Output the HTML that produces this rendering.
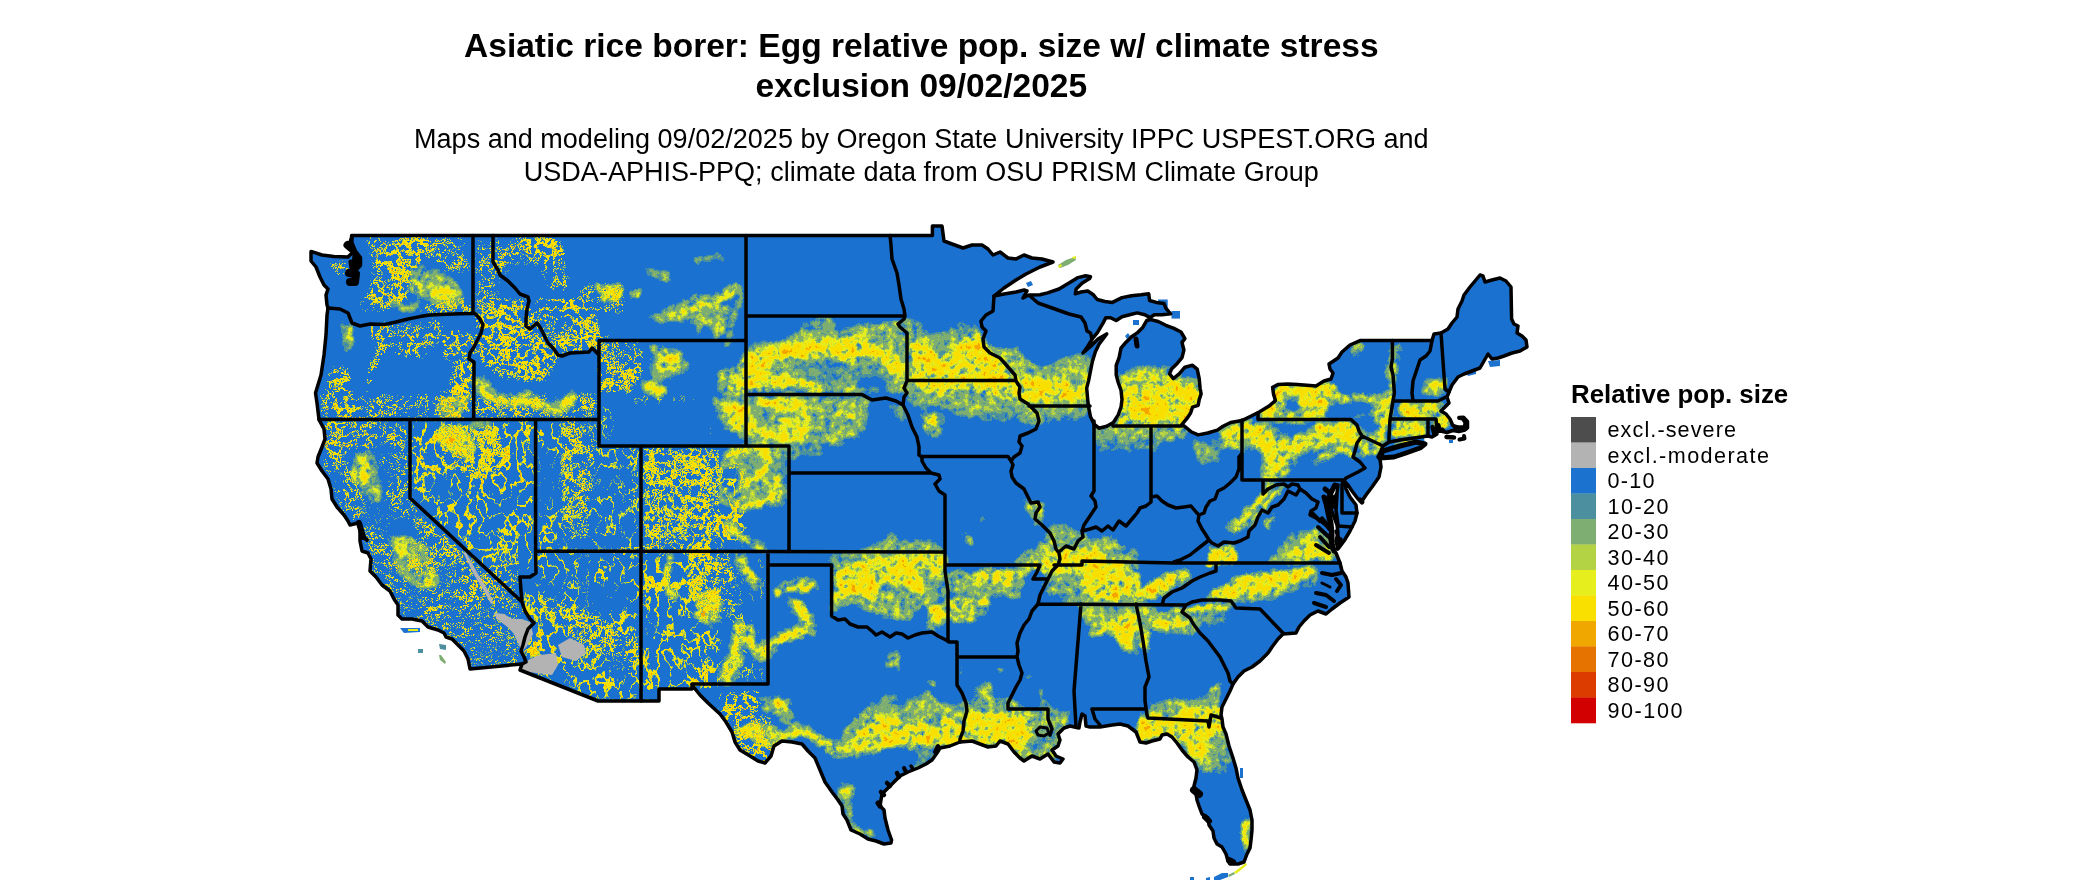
<!DOCTYPE html>
<html><head><meta charset="utf-8"><title>Asiatic rice borer</title>
<style>
html,body{margin:0;padding:0;background:#fff;overflow:hidden;}
svg{display:block;font-family:"Liberation Sans",sans-serif;}
.t{font-weight:bold;font-size:33.5px;text-anchor:middle;fill:#000}
.s{font-size:27px;text-anchor:middle;fill:#000}
.lt{font-weight:bold;font-size:25.9px;fill:#000}
.ll{font-size:21.6px;fill:#000}
.b{fill:none;stroke:#000;stroke-width:3.5;stroke-linejoin:round;stroke-linecap:round}
</style></head><body>
<svg width="2100" height="892" viewBox="0 0 2100 892">
<rect width="2100" height="892" fill="#fff"/>
<g style="opacity:0.999">
<text class="t" x="921.3" y="56.5" textLength="914.5" lengthAdjust="spacing">Asiatic rice borer: Egg relative pop. size w/ climate stress</text>
<text class="t" x="921.3" y="96.5">exclusion 09/02/2025</text>
<text class="s" x="921.3" y="148.3" textLength="1014.5" lengthAdjust="spacing">Maps and modeling 09/02/2025 by Oregon State University IPPC USPEST.ORG and</text>
<text class="s" x="921.3" y="181" textLength="795" lengthAdjust="spacing">USDA-APHIS-PPQ; climate data from OSU PRISM Climate Group</text>
<text class="lt" x="1571" y="402.8">Relative pop. size</text>
<rect x="1571" y="417.00" width="25" height="25.80" fill="#4d4d4d"/><text class="ll" x="1607.5" y="437.30" textLength="128.5" lengthAdjust="spacing">excl.-severe</text>
<rect x="1571" y="442.50" width="25" height="25.80" fill="#b3b3b3"/><text class="ll" x="1607.5" y="462.80" textLength="161.5" lengthAdjust="spacing">excl.-moderate</text>
<rect x="1571" y="468.00" width="25" height="25.80" fill="#1b72cf"/><text class="ll" x="1607.5" y="488.30" textLength="47" lengthAdjust="spacing">0-10</text>
<rect x="1571" y="493.50" width="25" height="25.80" fill="#4c90a0"/><text class="ll" x="1607.5" y="513.80" textLength="61" lengthAdjust="spacing">10-20</text>
<rect x="1571" y="519.00" width="25" height="25.80" fill="#7fae72"/><text class="ll" x="1607.5" y="539.30" textLength="61" lengthAdjust="spacing">20-30</text>
<rect x="1571" y="544.50" width="25" height="25.80" fill="#b3d244"/><text class="ll" x="1607.5" y="564.80" textLength="61" lengthAdjust="spacing">30-40</text>
<rect x="1571" y="570.00" width="25" height="25.80" fill="#e6ee1e"/><text class="ll" x="1607.5" y="590.30" textLength="61" lengthAdjust="spacing">40-50</text>
<rect x="1571" y="595.50" width="25" height="25.80" fill="#fae000"/><text class="ll" x="1607.5" y="615.80" textLength="61" lengthAdjust="spacing">50-60</text>
<rect x="1571" y="621.00" width="25" height="25.80" fill="#f0a800"/><text class="ll" x="1607.5" y="641.30" textLength="61" lengthAdjust="spacing">60-70</text>
<rect x="1571" y="646.50" width="25" height="25.80" fill="#e67300"/><text class="ll" x="1607.5" y="666.80" textLength="61" lengthAdjust="spacing">70-80</text>
<rect x="1571" y="672.00" width="25" height="25.80" fill="#dc3c00"/><text class="ll" x="1607.5" y="692.30" textLength="61" lengthAdjust="spacing">80-90</text>
<rect x="1571" y="697.50" width="25" height="25.80" fill="#d20000"/><text class="ll" x="1607.5" y="717.80" textLength="75" lengthAdjust="spacing">90-100</text>
</g>
<defs>
<clipPath id="us"><path d="M351.6,235.6 L932.4,235.6 L932.4,226 L942,226 L944,241 L952,244 L963,248 L972,245 L982,245 L988,249 L993,255 L1000,252 L1008,258 L1016,259 L1024,255 L1032,258 L1042,259 L1053,262 L1040,267 L1026,274 L1016,280 L1004,288 L994,296 L1004,294 L1016,292 L1024,290 L1027,291 L1023,298 L1029,295 L1040,294.8 L1047.6,292.9 L1059,289 L1068.6,283.3 L1078,277.6 L1085.7,275.7 L1090.5,276.7 L1089.6,278.6 L1082,283.3 L1076.2,289 L1075.3,293.8 L1081,292 L1087.7,291 L1093.4,294.8 L1097.2,299.5 L1104.8,301.5 L1112.4,302.4 L1122,297.6 L1131.5,295.7 L1141,294.8 L1148.7,293.8 L1149.6,300.5 L1156.3,302.4 L1163.9,303.4 L1165.8,308.1 L1170.6,313.8 L1162,314.8 L1154.4,314.8 L1150,317.6 L1144.8,314.8 L1137.2,312.9 L1129.6,314.8 L1122,316.7 L1116.2,320.5 L1110.5,317.7 L1105.8,317.7 L1102.9,323.4 L1097.2,332.9 L1092.4,338.6 L1088,346 L1083,353 L1090,347 L1098,339 L1106.7,333.9 L1099,344.3 L1095.3,352 L1092.4,361.5 L1090.5,371 L1088.6,380.6 L1086.7,388.2 L1087.7,399.6 L1088.6,407.2 L1090.5,416.8 L1094.3,424.4 L1099,428.2 L1106.7,426.3 L1113.4,422.5 L1118.2,414.9 L1121,407.2 L1122,399.6 L1121,390.1 L1118.2,382.5 L1116.2,374.8 L1116.2,365.3 L1119.1,357.7 L1121,348.2 L1125.8,342.4 L1131.5,336.7 L1137.2,332.9 L1142.9,327.2 L1146.7,320.5 L1151,319.6 L1158.2,321.5 L1165.8,325.3 L1173.4,328.1 L1181,332 L1184.9,338.6 L1182,342.4 L1183.9,350 L1182,357.7 L1177.2,363.4 L1171.5,369.1 L1169.6,373.9 L1173.4,378.7 L1179.2,373.9 L1184.9,367.2 L1192.5,365.3 L1197.2,369.1 L1199.2,378.7 L1200.1,388.2 L1201.1,393.9 L1199.2,399.6 L1198.2,405.3 L1192.5,407.2 L1190.6,413 L1186.8,418.7 L1182,424.4 L1186.8,428.2 L1191.5,432 L1198.2,434.9 L1207.7,433 L1217.3,430.1 L1223,426.3 L1230.6,422.5 L1242,420.6 L1249.7,416.8 L1259.2,412 L1268.7,406.3 L1275.4,400.6 L1273.5,393.9 L1272.6,387.2 L1278.3,384.4 L1287.8,384 L1297.3,384.4 L1306.9,385.3 L1316,386 L1324,381 L1331,379 L1333,373 L1330,369 L1329,364 L1338,358 L1342,352 L1350,345 L1360,340.6 L1432,340.6 L1434,334 L1441,333 L1448,329 L1452,323 L1457,317 L1458,309 L1462,301 L1464,295 L1470,287 L1480,275 L1483,276 L1485,282 L1492,280 L1500,278 L1506,281 L1511,287 L1511.6,319 L1514,324 L1518,326 L1517,333 L1522,336 L1526,340 L1527,347 L1520,351 L1512,353 L1504,356 L1498,358 L1492,359 L1488,354 L1484,361 L1480,368 L1472,371 L1464,374 L1458,377 L1452,385 L1449,392 L1447,397 L1449,403 L1444,408 L1441,411 L1446,414 L1450,419 L1452.8,425.5 L1458.9,427.5 L1464.5,427 L1465.5,422.4 L1463,418.8 L1459,417.6 L1463.5,417.2 L1467.5,421.5 L1467.5,428 L1465,430 L1458.9,431.5 L1452.8,430.5 L1446.8,432.5 L1440.7,431 L1437,431.5 L1437,434 L1432,437 L1428,436 L1414,438 L1400,440 L1389,442 L1383,446 L1381,451 L1378,457 L1380,459 L1381,467 L1379,477 L1372,487 L1366,495 L1362,501 L1358,499 L1352,491 L1348,485 L1344,481 L1346,489 L1350,497 L1356,505 L1357,513 L1355,521 L1350,531 L1344,541 L1338,549 L1336,541 L1338,533 L1337,525 L1334,517 L1331,509 L1333,501 L1337,493 L1338,485 L1334,485 L1332,489 L1328,497 L1326,507 L1328,517 L1331,529 L1330,539 L1332,549 L1336,553 L1340,563 L1342,571 L1346,577 L1348,583 L1349,597 L1340,603 L1332,609 L1326,614 L1318,611 L1310,615 L1304,621 L1299,627 L1296,633 L1283,634 L1278,639 L1272,647 L1268,653 L1260,661 L1252,667 L1244,671 L1238,677 L1233,684 L1230,691 L1226,699 L1222,707 L1221,715 L1222,719 L1223,727 L1226,734 L1229,746 L1233,758 L1236,768 L1238,778 L1242,790 L1246,800 L1250,810 L1252,820 L1252,830 L1251,840 L1250,848 L1247,854 L1244,862 L1238,864 L1230,864 L1228,861 L1226,854 L1222,847 L1217,844 L1214,838 L1213,831 L1209,825 L1208,818 L1202,814 L1199,806 L1197,800 L1196,794 L1194,786 L1196,778 L1197,770 L1194,762 L1188,757 L1182,750 L1177,743 L1172,737 L1167,734 L1162,735 L1160,739 L1152,741 L1146,743 L1140,742 L1136,732 L1128,726 L1120,724 L1112,725 L1100,727 L1090,727 L1086,726 L1085,716 L1082,714 L1080,722 L1079,728 L1070,726 L1064,728 L1058,734 L1060,740 L1058,746 L1052,750 L1056,756 L1063,759 L1060,763 L1054,762 L1048,754 L1040,759 L1032,756 L1024,761 L1020,758 L1014,752 L1008,744 L1000,741 L996,746 L988,747 L980,744 L972,741 L960,742 L950,746 L940,748 L937,753 L932,760 L926,764 L918,768 L908,772 L900,776 L890,786 L882,794 L880,806 L884,810 L885,818 L888,830 L891.6,840 L891,843 L884,844 L876,841 L868,839 L860,834 L851,830 L847,820 L843,814 L842,806 L838,800 L832,792 L825,782 L820,770 L815,758 L808,751 L802,744 L792,742 L782,741 L774,746 L771,756 L765,763 L758,761 L750,756 L740,750 L735,742 L732,732 L726,722 L720,714 L708,703 L700,695 L692,685 L692,689 L659,689 L659,701 L641,701 L598,701 L520,670 L522,664 L470,669 L468,659 L464,651 L458,645 L452,639 L446,637 L444,633 L438,630 L428,627 L422,621 L412,619 L402,619 L398,615 L398,605 L394,599 L390,591 L382,585 L376,577 L370,571 L371,559 L368,553 L362,551 L360,541 L360,529 L358,523 L350,525 L348,521 L344,515 L337,507 L332,499 L331,489 L328,479 L322,471 L317,463 L318,457 L322,447 L325,439 L324,429 L319,419.6 L317,403 L315.5,393 L321,375 L324,355 L326,335 L327,315 L328,308 L327,305 L326,295 L328,289 L324,285 L320,277 L316,267 L311,261 L311,251.4 L322,255 L334,256.4 L348,257 L355,250 L352,243Z M1383,451 L1400,446 L1416,442 L1425,444 L1420,448 L1406,453 L1394,457 L1380,458Z"/></clipPath>
<filter id="fe" filterUnits="userSpaceOnUse" x="300" y="215" width="1240" height="677" color-interpolation-filters="sRGB">
<feGaussianBlur in="SourceGraphic" stdDeviation="2.0" result="b"/>
<feTurbulence type="fractalNoise" baseFrequency="0.03" numOctaves="3" seed="2" result="n2"/>
<feDisplacementMap in="b" in2="n2" scale="18" xChannelSelector="R" yChannelSelector="G" result="bd"/>
<feTurbulence type="fractalNoise" baseFrequency="0.16" numOctaves="3" seed="4" result="n"/>
<feTurbulence type="fractalNoise" baseFrequency="0.05" numOctaves="2" seed="8" result="nm"/>
<feColorMatrix in="n" type="matrix" values="1 0 0 0 0 1 0 0 0 0 1 0 0 0 0 0 0 0 0 1" result="g1"/>
<feColorMatrix in="nm" type="matrix" values="1 0 0 0 0 1 0 0 0 0 1 0 0 0 0 0 0 0 0 1" result="g2"/>
<feComposite in="g1" in2="g2" operator="arithmetic" k1="0" k2="1.0" k3="0.5" k4="-0.25" result="ng"/>
<feComposite in="bd" in2="ng" operator="arithmetic" k1="2.0" k2="0.0" k3="0.14" k4="-0.07" result="s"/>
<feComponentTransfer in="s"><feFuncR type="discrete" tableValues="0.106 0.106 0.298 0.298 0.498 0.498 0.498 0.702 0.702 0.902 0.902 0.902 0.980 0.980 0.980 0.980 0.980 0.980 0.980 0.961"/><feFuncG type="discrete" tableValues="0.447 0.447 0.565 0.565 0.682 0.682 0.682 0.824 0.824 0.933 0.933 0.933 0.878 0.878 0.878 0.878 0.878 0.878 0.878 0.647"/><feFuncB type="discrete" tableValues="0.812 0.812 0.627 0.627 0.447 0.447 0.447 0.267 0.267 0.118 0.118 0.118 0.000 0.000 0.000 0.000 0.000 0.000 0.000 0.000"/><feFuncA type="table" tableValues="1 1"/></feComponentTransfer>
</filter>
<filter id="fw" filterUnits="userSpaceOnUse" x="300" y="215" width="1240" height="677" color-interpolation-filters="sRGB">
<feGaussianBlur in="SourceGraphic" stdDeviation="3" result="m0"/>
<feTurbulence type="fractalNoise" baseFrequency="0.035" numOctaves="2" seed="5" result="q"/>
<feColorMatrix in="q" type="matrix" values="1 0 0 0 0 1 0 0 0 0 1 0 0 0 0 0 0 0 0 1" result="qg"/>
<feComposite in="m0" in2="qg" operator="arithmetic" k1="1.6" k2="0.2" k3="0" k4="0" result="m"/>
<feTurbulence type="fractalNoise" baseFrequency="0.11" numOctaves="4" seed="11" result="n"/>
<feComponentTransfer in="n" result="r"><feFuncR type="table" tableValues="0 0 0 0 0 0 0 0 0 1 0 1 0 0 0 0 0 0 0 0 0"/><feFuncA type="table" tableValues="1 1"/></feComponentTransfer>
<feColorMatrix in="r" type="matrix" values="1 0 0 0 0 1 0 0 0 0 1 0 0 0 0 0 0 0 0 1" result="rg"/>
<feComposite in="m" in2="rg" operator="arithmetic" k1="0" k2="1.33" k3="1" k4="-1" result="s"/>
<feColorMatrix in="s" type="matrix" values="1 0 0 0 0 1 0 0 0 0 1 0 0 0 0 1 0 0 0 0" result="sa"/>
<feComponentTransfer in="sa"><feFuncR type="discrete" tableValues="0.106 0.106 0.106 0.106 0.106 0.106 0.106 0.106 0.498 0.498 0.702 0.902 0.980 0.980 0.980 0.980 0.980 0.980 0.961 0.980"/><feFuncG type="discrete" tableValues="0.447 0.447 0.447 0.447 0.447 0.447 0.447 0.447 0.682 0.682 0.824 0.933 0.878 0.878 0.878 0.878 0.878 0.878 0.647 0.878"/><feFuncB type="discrete" tableValues="0.812 0.812 0.812 0.812 0.812 0.812 0.812 0.812 0.447 0.447 0.267 0.118 0.000 0.000 0.000 0.000 0.000 0.000 0.000 0.000"/><feFuncA type="discrete" tableValues="0 0 0 0 0 0 0 0 1 1 1 1 1 1 1 1 1 1 1 1"/></feComponentTransfer>
</filter>
<filter id="fw2" filterUnits="userSpaceOnUse" x="300" y="215" width="1240" height="677" color-interpolation-filters="sRGB">
<feGaussianBlur in="SourceGraphic" stdDeviation="3" result="m0"/>
<feTurbulence type="fractalNoise" baseFrequency="0.03" numOctaves="2" seed="9" result="q"/>
<feColorMatrix in="q" type="matrix" values="1 0 0 0 0 1 0 0 0 0 1 0 0 0 0 0 0 0 0 1" result="qg"/>
<feComposite in="m0" in2="qg" operator="arithmetic" k1="1.6" k2="0.2" k3="0" k4="0" result="m"/>
<feTurbulence type="fractalNoise" baseFrequency="0.085 0.06" numOctaves="4" seed="23" result="n"/>
<feComponentTransfer in="n" result="r"><feFuncR type="table" tableValues="0 0 0 0 0 0 0 0.5 1 0.5 0 0 0 0 0 0 0"/><feFuncA type="table" tableValues="1 1"/></feComponentTransfer>
<feColorMatrix in="r" type="matrix" values="1 0 0 0 0 1 0 0 0 0 1 0 0 0 0 0 0 0 0 1" result="rg"/>
<feComposite in="m" in2="rg" operator="arithmetic" k1="0" k2="1.0" k3="1" k4="-1" result="s"/>
<feColorMatrix in="s" type="matrix" values="1 0 0 0 0 1 0 0 0 0 1 0 0 0 0 1 0 0 0 0" result="sa"/>
<feComponentTransfer in="sa"><feFuncR type="discrete" tableValues="0.106 0.106 0.106 0.106 0.106 0.106 0.106 0.106 0.498 0.498 0.702 0.902 0.980 0.980 0.980 0.980 0.980 0.980 0.961 0.980"/><feFuncG type="discrete" tableValues="0.447 0.447 0.447 0.447 0.447 0.447 0.447 0.447 0.682 0.682 0.824 0.933 0.878 0.878 0.878 0.878 0.878 0.878 0.647 0.878"/><feFuncB type="discrete" tableValues="0.812 0.812 0.812 0.812 0.812 0.812 0.812 0.812 0.447 0.447 0.267 0.118 0.000 0.000 0.000 0.000 0.000 0.000 0.000 0.000"/><feFuncA type="discrete" tableValues="0 0 0 0 0 0 0 0 1 1 1 1 1 1 1 1 1 1 1 1"/></feComponentTransfer>
</filter>
</defs>
<path d="M351.6,235.6 L932.4,235.6 L932.4,226 L942,226 L944,241 L952,244 L963,248 L972,245 L982,245 L988,249 L993,255 L1000,252 L1008,258 L1016,259 L1024,255 L1032,258 L1042,259 L1053,262 L1040,267 L1026,274 L1016,280 L1004,288 L994,296 L1004,294 L1016,292 L1024,290 L1027,291 L1023,298 L1029,295 L1040,294.8 L1047.6,292.9 L1059,289 L1068.6,283.3 L1078,277.6 L1085.7,275.7 L1090.5,276.7 L1089.6,278.6 L1082,283.3 L1076.2,289 L1075.3,293.8 L1081,292 L1087.7,291 L1093.4,294.8 L1097.2,299.5 L1104.8,301.5 L1112.4,302.4 L1122,297.6 L1131.5,295.7 L1141,294.8 L1148.7,293.8 L1149.6,300.5 L1156.3,302.4 L1163.9,303.4 L1165.8,308.1 L1170.6,313.8 L1162,314.8 L1154.4,314.8 L1150,317.6 L1144.8,314.8 L1137.2,312.9 L1129.6,314.8 L1122,316.7 L1116.2,320.5 L1110.5,317.7 L1105.8,317.7 L1102.9,323.4 L1097.2,332.9 L1092.4,338.6 L1088,346 L1083,353 L1090,347 L1098,339 L1106.7,333.9 L1099,344.3 L1095.3,352 L1092.4,361.5 L1090.5,371 L1088.6,380.6 L1086.7,388.2 L1087.7,399.6 L1088.6,407.2 L1090.5,416.8 L1094.3,424.4 L1099,428.2 L1106.7,426.3 L1113.4,422.5 L1118.2,414.9 L1121,407.2 L1122,399.6 L1121,390.1 L1118.2,382.5 L1116.2,374.8 L1116.2,365.3 L1119.1,357.7 L1121,348.2 L1125.8,342.4 L1131.5,336.7 L1137.2,332.9 L1142.9,327.2 L1146.7,320.5 L1151,319.6 L1158.2,321.5 L1165.8,325.3 L1173.4,328.1 L1181,332 L1184.9,338.6 L1182,342.4 L1183.9,350 L1182,357.7 L1177.2,363.4 L1171.5,369.1 L1169.6,373.9 L1173.4,378.7 L1179.2,373.9 L1184.9,367.2 L1192.5,365.3 L1197.2,369.1 L1199.2,378.7 L1200.1,388.2 L1201.1,393.9 L1199.2,399.6 L1198.2,405.3 L1192.5,407.2 L1190.6,413 L1186.8,418.7 L1182,424.4 L1186.8,428.2 L1191.5,432 L1198.2,434.9 L1207.7,433 L1217.3,430.1 L1223,426.3 L1230.6,422.5 L1242,420.6 L1249.7,416.8 L1259.2,412 L1268.7,406.3 L1275.4,400.6 L1273.5,393.9 L1272.6,387.2 L1278.3,384.4 L1287.8,384 L1297.3,384.4 L1306.9,385.3 L1316,386 L1324,381 L1331,379 L1333,373 L1330,369 L1329,364 L1338,358 L1342,352 L1350,345 L1360,340.6 L1432,340.6 L1434,334 L1441,333 L1448,329 L1452,323 L1457,317 L1458,309 L1462,301 L1464,295 L1470,287 L1480,275 L1483,276 L1485,282 L1492,280 L1500,278 L1506,281 L1511,287 L1511.6,319 L1514,324 L1518,326 L1517,333 L1522,336 L1526,340 L1527,347 L1520,351 L1512,353 L1504,356 L1498,358 L1492,359 L1488,354 L1484,361 L1480,368 L1472,371 L1464,374 L1458,377 L1452,385 L1449,392 L1447,397 L1449,403 L1444,408 L1441,411 L1446,414 L1450,419 L1452.8,425.5 L1458.9,427.5 L1464.5,427 L1465.5,422.4 L1463,418.8 L1459,417.6 L1463.5,417.2 L1467.5,421.5 L1467.5,428 L1465,430 L1458.9,431.5 L1452.8,430.5 L1446.8,432.5 L1440.7,431 L1437,431.5 L1437,434 L1432,437 L1428,436 L1414,438 L1400,440 L1389,442 L1383,446 L1381,451 L1378,457 L1380,459 L1381,467 L1379,477 L1372,487 L1366,495 L1362,501 L1358,499 L1352,491 L1348,485 L1344,481 L1346,489 L1350,497 L1356,505 L1357,513 L1355,521 L1350,531 L1344,541 L1338,549 L1336,541 L1338,533 L1337,525 L1334,517 L1331,509 L1333,501 L1337,493 L1338,485 L1334,485 L1332,489 L1328,497 L1326,507 L1328,517 L1331,529 L1330,539 L1332,549 L1336,553 L1340,563 L1342,571 L1346,577 L1348,583 L1349,597 L1340,603 L1332,609 L1326,614 L1318,611 L1310,615 L1304,621 L1299,627 L1296,633 L1283,634 L1278,639 L1272,647 L1268,653 L1260,661 L1252,667 L1244,671 L1238,677 L1233,684 L1230,691 L1226,699 L1222,707 L1221,715 L1222,719 L1223,727 L1226,734 L1229,746 L1233,758 L1236,768 L1238,778 L1242,790 L1246,800 L1250,810 L1252,820 L1252,830 L1251,840 L1250,848 L1247,854 L1244,862 L1238,864 L1230,864 L1228,861 L1226,854 L1222,847 L1217,844 L1214,838 L1213,831 L1209,825 L1208,818 L1202,814 L1199,806 L1197,800 L1196,794 L1194,786 L1196,778 L1197,770 L1194,762 L1188,757 L1182,750 L1177,743 L1172,737 L1167,734 L1162,735 L1160,739 L1152,741 L1146,743 L1140,742 L1136,732 L1128,726 L1120,724 L1112,725 L1100,727 L1090,727 L1086,726 L1085,716 L1082,714 L1080,722 L1079,728 L1070,726 L1064,728 L1058,734 L1060,740 L1058,746 L1052,750 L1056,756 L1063,759 L1060,763 L1054,762 L1048,754 L1040,759 L1032,756 L1024,761 L1020,758 L1014,752 L1008,744 L1000,741 L996,746 L988,747 L980,744 L972,741 L960,742 L950,746 L940,748 L937,753 L932,760 L926,764 L918,768 L908,772 L900,776 L890,786 L882,794 L880,806 L884,810 L885,818 L888,830 L891.6,840 L891,843 L884,844 L876,841 L868,839 L860,834 L851,830 L847,820 L843,814 L842,806 L838,800 L832,792 L825,782 L820,770 L815,758 L808,751 L802,744 L792,742 L782,741 L774,746 L771,756 L765,763 L758,761 L750,756 L740,750 L735,742 L732,732 L726,722 L720,714 L708,703 L700,695 L692,685 L692,689 L659,689 L659,701 L641,701 L598,701 L520,670 L522,664 L470,669 L468,659 L464,651 L458,645 L452,639 L446,637 L444,633 L438,630 L428,627 L422,621 L412,619 L402,619 L398,615 L398,605 L394,599 L390,591 L382,585 L376,577 L370,571 L371,559 L368,553 L362,551 L360,541 L360,529 L358,523 L350,525 L348,521 L344,515 L337,507 L332,499 L331,489 L328,479 L322,471 L317,463 L318,457 L322,447 L325,439 L324,429 L319,419.6 L317,403 L315.5,393 L321,375 L324,355 L326,335 L327,315 L328,308 L327,305 L326,295 L328,289 L324,285 L320,277 L316,267 L311,261 L311,251.4 L322,255 L334,256.4 L348,257 L355,250 L352,243Z M1383,451 L1400,446 L1416,442 L1425,444 L1420,448 L1406,453 L1394,457 L1380,458Z" fill="#1b72cf"/>
<g clip-path="url(#us)"><g filter="url(#fe)"><rect x="290" y="205" width="1260" height="690" fill="#000"/>
<path d="M408,275 L420,265 L440,271 L460,281 L466,295 L456,303 L428,303 L412,295Z" fill="#494949"/>
<path d="M428,285 L444,284 L456,290 L452,296 L432,296Z" fill="#9f9f9f"/>
<path d="M412,283 L422,283 L422,291 L412,291Z" fill="#9f9f9f"/>
<path d="M392,301 L420,303 L420,311 L394,309Z" fill="#494949"/>
<path d="M342,327 L354,327 L354,343 L346,351 L340,347Z" fill="#494949"/>
<path d="M347.6,329 L353,329 L352.4,338 L348,338Z" fill="#9f9f9f"/>
<path d="M596,285 L616,285 L620,299 L604,303Z" fill="#9f9f9f"/>
<path d="M628,291 L640,291 L640,297 L628,297Z" fill="#9f9f9f"/>
<path d="M640,265 L668,273 L666,285 L654,281Z" fill="#494949"/>
<path d="M692,259 L720,258 L720,263 L698,265Z" fill="#494949"/>
<path d="M652,345 L680,347 L686,367 L672,381 L656,375Z" fill="#494949"/>
<path d="M658,351 L674,353 L676,369 L662,371Z" fill="#9f9f9f"/>
<path d="M647.5,326.5 L661.5,312.5 L675.5,301.3 L692.4,295.7 L706.4,298.5 L720.4,292.9 L735.8,281.7 L737.2,290 L728.8,301.3 L731.6,315.3 L726,326.5 L720.4,337.7 L712,326.5 L700.8,323.7 L698,335 L692.4,323.7 L675.5,318 L661.5,323.7Z" fill="#494949"/>
<path d="M676,312 L686.8,309.7 L703.6,304 L720.4,301.3 L731.6,290" fill="none" stroke="#9f9f9f" stroke-width="3.5" stroke-linecap="round" stroke-linejoin="round"/>
<path d="M700,306 L698,330" fill="none" stroke="#9f9f9f" stroke-width="2.5" stroke-linecap="round" stroke-linejoin="round"/>
<path d="M720,302 L722,330" fill="none" stroke="#9f9f9f" stroke-width="2.5" stroke-linecap="round" stroke-linejoin="round"/>
<path d="M737,285 L740,300 L733,330 L727,345" fill="none" stroke="#494949" stroke-width="5" stroke-linecap="round" stroke-linejoin="round"/>
<path d="M737,285 L740,300" fill="none" stroke="#666666" stroke-width="3" stroke-linecap="round" stroke-linejoin="round"/>
<path d="M752,348 L780,338 L804,326 L828,320 L840,334 L856,326 L878,320 L902,324 L906,340 L906,396 L892,394 L860,392 L824,390 L740,390 L740,366Z" fill="#494949"/>
<path d="M786,368 L806,360 L836,360 L852,368 L868,364 L884,376 L900,388 L880,390 L852,380 L824,380 L800,378Z" fill="#2d2d2d"/>
<path d="M852,381 L876,379 L892,388 L888,394 L864,388Z" fill="#000000"/>
<path d="M760,360 L790,350 L820,344 L844,352 L864,343 L880,352 L896,366 L906,374" fill="none" stroke="#666666" stroke-width="20" stroke-linecap="round" stroke-linejoin="round"/>
<path d="M760,360 L790,350 L820,344 L844,352 L864,343 L880,352 L896,366 L906,374" fill="none" stroke="#9f9f9f" stroke-width="11" stroke-linecap="round" stroke-linejoin="round"/>
<path d="M740,382 L764,381 L800,385 L820,388" fill="none" stroke="#9f9f9f" stroke-width="9" stroke-linecap="round" stroke-linejoin="round"/>
<path d="M748,356 L764,356 L770,366 L762,384 L740,388 L740,364Z" fill="#9f9f9f"/>
<path d="M902,324 L920,326 L932,336 L948,326 L964,325 L980,328 L984,344 L998,344 L1016,344 L1024,360 L1040,364 L1060,360 L1080,350 L1089,352 L1089,412 L1060,416 L1032,416 L1020,412 L1000,414 L980,412 L956,408 L940,402 L920,404 L906,396Z" fill="#494949"/>
<path d="M906,396 L920,404 L940,402 L956,408 L980,412 L1000,414 L1020,412 L1032,416 L1060,416 L1060,424 L1032,422 L1000,420 L980,421 L956,414 L940,408 L920,412 L906,404Z" fill="#2d2d2d"/>
<path d="M910,336 L920,340 L940,352 L960,340 L980,336 L984,352 L1000,360 L1014,376 L1020,378 L1036,380 L1060,378 L1088,376 L1088,400 L1060,400 L1040,402 L1020,400 L1000,396 L980,394 L960,388 L940,390 L920,388 L910,382Z" fill="#9f9f9f"/>
<path d="M1028,368 L1040,368 L1040,380 L1028,380Z" fill="#494949"/>
<path d="M1030,370 L1038,370 L1038,378 L1030,378Z" fill="#000000"/>
<path d="M1074,378 L1080,378 L1080,388 L1074,388Z" fill="#000000"/>
<path d="M998,346 L1016,346 L1024,360 L1008,366Z" fill="#666666"/>
<path d="M748,396 L812,396 L868,396 L872,420 L860,436 L836,440 L816,444 L788,448 L752,448 L740,440 L740,400Z" fill="#494949"/>
<path d="M788,444 L824,440 L824,456 L788,458Z" fill="#2d2d2d"/>
<path d="M762,404 L788,400 L808,408 L810,424 L800,436 L772,438 L752,428" fill="none" stroke="#9f9f9f" stroke-width="9" stroke-linecap="round" stroke-linejoin="round"/>
<path d="M772,408 L800,408 L802,428 L774,430Z" fill="#666666"/>
<path d="M836,412 L842,412 L842,418 L836,418Z" fill="#9f9f9f"/>
<path d="M848,414 L854,414 L854,422 L848,422Z" fill="#9f9f9f"/>
<path d="M740,448 L788,448 L788,478 L740,478Z" fill="#494949"/>
<path d="M740,452 L752,450 L758,460 L748,478 L740,478Z" fill="#9f9f9f"/>
<path d="M766,454 L784,450 L786,458 L770,464Z" fill="#9f9f9f"/>
<path d="M920,416 L942,416 L942,434 L924,434Z" fill="#494949"/>
<path d="M924,420 L936,420 L936,428 L924,428Z" fill="#9f9f9f"/>
<path d="M892,404 L900,404 L902,420 L894,420Z" fill="#2d2d2d"/>
<path d="M1094,428 L1152,428 L1160,432 L1160,448 L1094,448Z" fill="#494949"/>
<path d="M1094,440 L1160,440 L1160,452 L1094,450Z" fill="#2d2d2d"/>
<path d="M1117,372 L1135,368 L1150,372 L1165,366 L1180,372 L1200,380 L1200,432 L1117,432Z" fill="#494949"/>
<path d="M1119,384 L1140,380 L1165,378 L1195,388 L1198,410 L1185,428 L1119,428Z" fill="#9f9f9f"/>
<path d="M1119,376 L1170,372 L1198,384 L1195,390 L1165,380 L1119,386Z" fill="#666666"/>
<path d="M1276,385 L1304,387 L1320,383 L1332,385 L1340,393 L1276,393Z" fill="#9f9f9f"/>
<path d="M1397,343 L1395,367 L1390,393" fill="none" stroke="#868686" stroke-width="4" stroke-linecap="round" stroke-linejoin="round"/>
<path d="M1426,375 L1444,375 L1444,393 L1426,393Z" fill="#666666"/>
<path d="M1350,347 L1362,345 L1360,353 L1350,353Z" fill="#666666"/>
<path d="M440,397 L452,393 L468,393 L470,409 L460,417 L440,415Z" fill="#494949"/>
<path d="M476,381 L492,397 L512,405 L532,401 L552,405 L572,401" fill="none" stroke="#494949" stroke-width="12" stroke-linecap="round" stroke-linejoin="round"/>
<path d="M476,381 L492,397 L512,405 L532,401 L552,405 L572,401" fill="none" stroke="#9f9f9f" stroke-width="4" stroke-linecap="round" stroke-linejoin="round"/>
<path d="M352,453 L368,453 L380,473 L384,497 L376,505 L360,489 L354,473Z" fill="#494949"/>
<path d="M356,461 L368,461 L374,477 L366,481 L358,473Z" fill="#9f9f9f"/>
<path d="M438,425 L460,425 L472,439 L480,453 L468,459 L452,453 L440,441Z" fill="#9f9f9f"/>
<path d="M474,423 L490,423 L490,431 L476,431Z" fill="#494949"/>
<path d="M721,450 L786,450 L786,495 L772,506 L750,510 L735,507 L721,500Z" fill="#494949"/>
<path d="M772,460 L786,460 L786,498 L774,500Z" fill="#2d2d2d"/>
<path d="M727,456 L750,453 L772,458" fill="none" stroke="#9f9f9f" stroke-width="6" stroke-linecap="round" stroke-linejoin="round"/>
<path d="M740,488 L755,478 L768,464" fill="none" stroke="#9f9f9f" stroke-width="6" stroke-linecap="round" stroke-linejoin="round"/>
<path d="M738,509 L760,506 L775,492 L779,472" fill="none" stroke="#9f9f9f" stroke-width="5" stroke-linecap="round" stroke-linejoin="round"/>
<path d="M724,467 L740,467 L741,485 L726,485Z" fill="#000000"/>
<path d="M727,524 L740,537 L760,547" fill="none" stroke="#494949" stroke-width="9" stroke-linecap="round" stroke-linejoin="round"/>
<path d="M727,524 L740,537 L760,547" fill="none" stroke="#9f9f9f" stroke-width="3.5" stroke-linecap="round" stroke-linejoin="round"/>
<path d="M695,594 L718,592 L721,612 L712,626 L698,622Z" fill="#9f9f9f"/>
<path d="M668,560 L672,592" fill="none" stroke="#494949" stroke-width="9" stroke-linecap="round" stroke-linejoin="round"/>
<path d="M668,560 L672,592" fill="none" stroke="#9f9f9f" stroke-width="3.5" stroke-linecap="round" stroke-linejoin="round"/>
<path d="M738,558 L745,570 L756,582" fill="none" stroke="#494949" stroke-width="9" stroke-linecap="round" stroke-linejoin="round"/>
<path d="M738,558 L745,570 L756,582" fill="none" stroke="#9f9f9f" stroke-width="3.5" stroke-linecap="round" stroke-linejoin="round"/>
<path d="M760,698 L790,696 L792,714 L764,716Z" fill="#494949"/>
<path d="M768,702 L784,701 L785,711 L770,712Z" fill="#9f9f9f"/>
<path d="M848,549 L872,543 L888,533 L900,541 L920,537 L940,541 L944,571 L828,571 L832,557Z" fill="#494949"/>
<path d="M848,559 L944,555 L944,571 L840,571Z" fill="#9f9f9f"/>
<path d="M1020,553 L1048,541 L1060,521 L1076,533 L1100,537 L1120,545 L1140,553 L1140,571 L1016,571Z" fill="#494949"/>
<path d="M1032,559 L1052,549 L1072,549 L1100,553 L1120,559 L1120,571 L1032,571Z" fill="#9f9f9f"/>
<path d="M1028,501 L1044,501 L1044,525 L1032,525Z" fill="#494949"/>
<path d="M1032,505 L1038,505 L1038,513 L1032,513Z" fill="#9f9f9f"/>
<path d="M962,533 L970,533 L970,547 L962,547Z" fill="#494949"/>
<path d="M980,520 L986,520 L986,524 L980,524Z" fill="#494949"/>
<path d="M1096,425 L1140,425 L1140,447 L1100,447Z" fill="#494949"/>
<path d="M1096,439 L1140,439 L1140,451 L1100,449Z" fill="#2d2d2d"/>
<path d="M1140,393 L1200,393 L1196,405 L1186,419 L1180,425 L1140,425Z" fill="#9f9f9f"/>
<path d="M1140,425 L1186,426 L1186,441 L1152,441 L1140,439Z" fill="#494949"/>
<path d="M1194,441 L1220,439 L1224,461 L1198,465Z" fill="#2d2d2d"/>
<path d="M1198,445 L1216,443 L1218,457 L1200,459Z" fill="#494949"/>
<path d="M1220,423 L1244,419 L1244,453 L1224,451Z" fill="#494949"/>
<path d="M1224,429 L1240,423 L1240,445 L1228,445Z" fill="#9f9f9f"/>
<path d="M1242,421 L1268,423 L1288,437 L1300,453 L1284,465 L1260,453 L1242,449Z" fill="#494949"/>
<path d="M1244,425 L1260,427 L1280,439 L1292,453 L1280,459 L1260,449 L1244,443Z" fill="#9f9f9f"/>
<path d="M1260,393 L1392,393 L1390,419 L1260,419Z" fill="#666666"/>
<path d="M1260,393 L1284,393 L1280,411 L1264,415Z" fill="#9f9f9f"/>
<path d="M1300,393 L1332,393 L1328,405 L1312,413 L1300,405Z" fill="#9f9f9f"/>
<path d="M1284,397 L1298,397 L1298,408 L1284,408Z" fill="#000000"/>
<path d="M1330,401 L1376,401 L1376,418 L1330,418Z" fill="#000000"/>
<path d="M1387,393 L1384,417 L1380,443" fill="none" stroke="#9f9f9f" stroke-width="6" stroke-linecap="round" stroke-linejoin="round"/>
<path d="M1264,473 L1280,453 L1300,439 L1320,433" fill="none" stroke="#494949" stroke-width="14" stroke-linecap="round" stroke-linejoin="round"/>
<path d="M1264,473 L1280,453 L1300,439 L1320,433" fill="none" stroke="#9f9f9f" stroke-width="6" stroke-linecap="round" stroke-linejoin="round"/>
<path d="M1272,475 L1292,457 L1320,443 L1340,441 L1356,433" fill="none" stroke="#494949" stroke-width="14" stroke-linecap="round" stroke-linejoin="round"/>
<path d="M1272,475 L1292,457 L1320,443 L1340,441 L1356,433" fill="none" stroke="#9f9f9f" stroke-width="6" stroke-linecap="round" stroke-linejoin="round"/>
<path d="M1320,459 L1340,451 L1352,453" fill="none" stroke="#9f9f9f" stroke-width="5" stroke-linecap="round" stroke-linejoin="round"/>
<path d="M1316,423 L1352,421 L1356,433 L1320,433Z" fill="#9f9f9f"/>
<path d="M1234,529 L1246,513 L1260,497 L1268,485" fill="none" stroke="#494949" stroke-width="12" stroke-linecap="round" stroke-linejoin="round"/>
<path d="M1234,529 L1246,513 L1260,497 L1268,485" fill="none" stroke="#9f9f9f" stroke-width="5" stroke-linecap="round" stroke-linejoin="round"/>
<path d="M1252,521 L1268,505 L1280,491" fill="none" stroke="#9f9f9f" stroke-width="4" stroke-linecap="round" stroke-linejoin="round"/>
<path d="M1268,529 L1276,517" fill="none" stroke="#9f9f9f" stroke-width="3" stroke-linecap="round" stroke-linejoin="round"/>
<path d="M1268,557 L1284,541 L1300,531 L1316,529 L1332,537 L1336,553 L1320,563 L1268,563Z" fill="#494949"/>
<path d="M1296,549 L1312,537 L1328,545 L1332,557 L1300,563Z" fill="#9f9f9f"/>
<path d="M1210,549 L1234,547 L1234,563 L1206,563Z" fill="#9f9f9f"/>
<path d="M1356,433 L1380,433 L1380,453 L1358,453Z" fill="#666666"/>
<path d="M1400,403 L1436,403 L1448,413 L1440,419 L1400,417Z" fill="#9f9f9f"/>
<path d="M1392,421 L1426,421 L1424,435 L1392,439Z" fill="#9f9f9f"/>
<path d="M1406,423 L1414,423 L1414,433 L1406,433Z" fill="#494949"/>
<path d="M730,675 L734,647 L742,627 L756,655 L768,651 L786,637 L808,629 L806,617 L798,607" fill="none" stroke="#494949" stroke-width="16" stroke-linecap="round" stroke-linejoin="round"/>
<path d="M730,675 L734,647 L742,627 L756,655 L768,651 L786,637 L808,629 L806,617 L798,607" fill="none" stroke="#9f9f9f" stroke-width="7" stroke-linecap="round" stroke-linejoin="round"/>
<path d="M780,591 L800,585 L812,581" fill="none" stroke="#494949" stroke-width="10" stroke-linecap="round" stroke-linejoin="round"/>
<path d="M780,591 L800,585 L812,581" fill="none" stroke="#9f9f9f" stroke-width="4" stroke-linecap="round" stroke-linejoin="round"/>
<path d="M832,571 L946,571 L948,597 L920,607 L900,621 L884,619 L860,609 L832,609Z" fill="#494949"/>
<path d="M832,571 L920,571 L916,583 L900,587 L880,583 L872,597 L848,601 L832,599Z" fill="#9f9f9f"/>
<path d="M894,577 L920,575 L922,591 L900,589Z" fill="#9f9f9f"/>
<path d="M880,583 L886,583 L886,591 L880,591Z" fill="#000000"/>
<path d="M924,607 L948,605 L950,629 L928,629Z" fill="#494949"/>
<path d="M928,611 L944,609 L946,625 L932,625Z" fill="#9f9f9f"/>
<path d="M948,571 L1032,571 L1020,595 L980,597 L948,591Z" fill="#494949"/>
<path d="M972,571 L1016,571 L1008,583 L980,585Z" fill="#9f9f9f"/>
<path d="M952,603 L984,601" fill="none" stroke="#494949" stroke-width="9" stroke-linecap="round" stroke-linejoin="round"/>
<path d="M952,603 L984,601" fill="none" stroke="#9f9f9f" stroke-width="3.5" stroke-linecap="round" stroke-linejoin="round"/>
<path d="M952,611 L984,609" fill="none" stroke="#494949" stroke-width="9" stroke-linecap="round" stroke-linejoin="round"/>
<path d="M952,611 L984,609" fill="none" stroke="#9f9f9f" stroke-width="3.5" stroke-linecap="round" stroke-linejoin="round"/>
<path d="M950,621 L968,619" fill="none" stroke="#494949" stroke-width="8" stroke-linecap="round" stroke-linejoin="round"/>
<path d="M950,621 L968,619" fill="none" stroke="#9f9f9f" stroke-width="3" stroke-linecap="round" stroke-linejoin="round"/>
<path d="M1048,571 L1140,571 L1140,605 L1080,605 L1048,595Z" fill="#494949"/>
<path d="M1084,571 L1140,571 L1140,597 L1100,599 L1084,587Z" fill="#9f9f9f"/>
<path d="M1082,607 L1140,605 L1140,631 L1132,651 L1112,637 L1092,637 L1082,623Z" fill="#494949"/>
<path d="M1086,623 L1100,627 L1120,619 L1136,611 L1140,623 L1128,647 L1112,631 L1096,631Z" fill="#9f9f9f"/>
<path d="M760,699 L784,697 L792,715 L816,731 L832,743 L860,715 L880,699 L892,691 L900,707 L920,701 L928,691 L940,699 L972,703 L980,683 L988,683 L992,699 L1008,699 L1040,711 L1060,711 L1072,723 L1060,731 L1048,749 L820,749 L796,735 L780,719 L760,711Z" fill="#494949"/>
<path d="M860,729 L878,713 L900,723 L920,719 L940,715 L960,725 L980,717 L1000,721 L1020,731 L1032,741 L1024,749 L840,749 L850,741Z" fill="#9f9f9f"/>
<path d="M978,717 L988,717 L988,727 L978,727Z" fill="#000000"/>
<path d="M928,711 L940,711 L940,727 L928,727Z" fill="#2d2d2d"/>
<path d="M774,701 L786,701 L786,711 L774,711Z" fill="#9f9f9f"/>
<path d="M740,731 L760,735 L788,729 L808,731 L824,743" fill="none" stroke="#494949" stroke-width="12" stroke-linecap="round" stroke-linejoin="round"/>
<path d="M740,731 L760,735 L788,729 L808,731 L824,743" fill="none" stroke="#9f9f9f" stroke-width="5" stroke-linecap="round" stroke-linejoin="round"/>
<path d="M1038,691 L1048,711" fill="none" stroke="#666666" stroke-width="3" stroke-linecap="round" stroke-linejoin="round"/>
<path d="M886,655 L900,655 L900,667 L886,667Z" fill="#666666"/>
<path d="M960,669 L966,669 L966,673 L960,673Z" fill="#494949"/>
<path d="M996,668 L1002,668 L1002,673 L996,673Z" fill="#494949"/>
<path d="M1022,670 L1028,670 L1028,675 L1022,675Z" fill="#666666"/>
<path d="M932,679 L940,679 L940,685 L932,685Z" fill="#666666"/>
<path d="M1140,587 L1188,571 L1192,579 L1172,591 L1152,601 L1140,605Z" fill="#494949"/>
<path d="M1140,591 L1152,583 L1168,577 L1184,573 L1188,577 L1172,587 L1152,597 L1140,603Z" fill="#9f9f9f"/>
<path d="M1204,599 L1228,581 L1252,573 L1280,569 L1320,569 L1320,583 L1292,589 L1272,601 L1252,601 L1232,603Z" fill="#494949"/>
<path d="M1280,579 L1320,579 L1320,591 L1292,593Z" fill="#2d2d2d"/>
<path d="M1208,595 L1228,583 L1252,575 L1280,571 L1312,571 L1316,577 L1292,583 L1272,593 L1252,593 L1232,597Z" fill="#9f9f9f"/>
<path d="M1140,607 L1234,605 L1228,615 L1200,623 L1192,637 L1160,633 L1140,627Z" fill="#494949"/>
<path d="M1196,609 L1226,609 L1226,623 L1200,623Z" fill="#2d2d2d"/>
<path d="M1144,611 L1152,617 L1168,619 L1180,615 L1188,623 L1172,629 L1152,625Z" fill="#9f9f9f"/>
<path d="M1190,606 L1224,605.4 L1228,610 L1192,611Z" fill="#9f9f9f"/>
<path d="M1140,631 L1150,633 L1148,647 L1140,651Z" fill="#9f9f9f"/>
<path d="M1160,699 L1180,701 L1200,699 L1210,685 L1222,683 L1222,699 L1216,719 L1160,719 L1150,709Z" fill="#494949"/>
<path d="M1180,709 L1200,707 L1206,713 L1204,719 L1172,719Z" fill="#868686"/>
<path d="M760,740 L780,734 L800,730 L816,738 L832,750 L856,750 L872,740" fill="none" stroke="#494949" stroke-width="12" stroke-linecap="round" stroke-linejoin="round"/>
<path d="M760,740 L780,734 L800,730 L816,738 L832,750 L856,750 L872,740" fill="none" stroke="#9f9f9f" stroke-width="5" stroke-linecap="round" stroke-linejoin="round"/>
<path d="M844,794 L848,814 L860,830 L872,836" fill="none" stroke="#666666" stroke-width="5" stroke-linecap="round" stroke-linejoin="round"/>
<path d="M842,790 L850,790 L850,798 L842,798Z" fill="#9f9f9f"/>
<path d="M916,752 L936,752 L936,766 L916,766Z" fill="#2d2d2d"/>
<path d="M960,714 L1072,714 L1060,762 L1020,762 L996,746 L960,742Z" fill="#494949"/>
<path d="M964,714 L1032,714 L1032,734 L1020,754 L1008,742 L980,740 L964,736Z" fill="#9f9f9f"/>
<path d="M1032,730 L1044,730 L1044,748 L1032,748Z" fill="#2d2d2d"/>
<path d="M1140,714 L1224,714 L1232,758 L1224,774 L1204,772 L1188,754 L1176,740 L1140,744Z" fill="#494949"/>
<path d="M1140,714 L1220,714 L1224,734 L1228,754 L1220,766 L1206,770 L1198,762 L1188,754 L1176,740 L1164,734 L1152,740 L1140,742Z" fill="#9f9f9f"/>
<path d="M1200,742 L1224,734 L1230,758 L1220,770 L1204,768Z" fill="#494949"/>
<path d="M1208,748 L1224,744 L1226,760 L1212,762Z" fill="#2d2d2d"/>
<path d="M1244,820 L1252,820 L1252,852 L1243,852Z" fill="#494949"/>
<path d="M1247.6,822 L1252,822 L1252,850 L1245.6,852 L1246,838Z" fill="#9f9f9f"/>
<path d="M1434,412 L1452,412 L1454,428 L1440,431 L1434,426Z" fill="#494949"/>
<path d="M1437,415 L1451,415 L1452,427 L1441,429 L1437,424Z" fill="#9f9f9f"/>
<path d="M390,540 L410,534 L428,545 L434,565 L430,585 L415,590 L400,575 L392,558Z" fill="#494949"/>
<path d="M404,556 L424,556 L428,578 L412,584 L404,570Z" fill="#2d2d2d"/>
<path d="M396,541 L411,539 L413,556 L400,560Z" fill="#9f9f9f"/>
<path d="M421,572 L430,572 L430,582 L421,582Z" fill="#9f9f9f"/>
<path d="M646,380 L660,377 L668,384 L667,396 L655,400 L646,394Z" fill="#494949"/>
<path d="M650,383 L660,381 L664,388 L662,394 L653,396Z" fill="#9f9f9f"/>
<path d="M720,372 L732,366 L746,368 L746,398 L730,397 L722,388Z" fill="#494949"/>
<path d="M730,373 L744,372 L744,392 L734,392Z" fill="#9f9f9f"/>
<path d="M716,402 L730,398 L746,400 L746,434 L730,432 L720,420Z" fill="#494949"/>
<path d="M722,406 L744,404 L744,428 L732,428 L724,416Z" fill="#9f9f9f"/>
</g>
<g filter="url(#fw2)"><rect x="290" y="205" width="1260" height="690" fill="#000"/>
<path d="M412,421 L534,421 L534,477 L412,477Z" fill="#ebebeb"/>
<path d="M412,477 L534,477 L534,571 L488,571 L412,499Z" fill="#bdbdbd"/>
<path d="M480,469 L520,461 L524,505 L500,501 L480,487Z" fill="#6b6b6b"/>
<path d="M536,421 L640,421 L640,551 L536,551Z" fill="#b2b2b2"/>
<path d="M538,449 L560,449 L564,489 L540,505Z" fill="#595959"/>
<path d="M590,513 L612,505 L620,525 L600,533Z" fill="#808080"/>
<path d="M600,393 L720,393 L720,445 L600,445Z" fill="#808080"/>
<path d="M616,405 L708,405 L708,441 L616,445Z" fill="#333333"/>
<path d="M642,447 L720,447 L720,551 L642,551Z" fill="#b8b8b8"/>
<path d="M720,447 L746,447 L746,553 L720,553Z" fill="#d1d1d1"/>
<path d="M520,549 L640,549 L640,701 L598,701 L520,669Z" fill="#c2c2c2"/>
<path d="M576,579 L628,579 L628,611 L576,611Z" fill="#616161"/>
<path d="M642,549 L720,549 L720,689 L642,689Z" fill="#c2c2c2"/>
<path d="M642,689 L692,689 L720,713 L720,749 L642,749Z" fill="#c2c2c2"/>
<path d="M720,549 L768,549 L768,683 L720,683Z" fill="#808080"/>
<path d="M430,425 L520,425 L525,480 L480,500 L430,470Z" fill="#ffffff"/>
</g>
<g filter="url(#fw)"><rect x="290" y="205" width="1260" height="690" fill="#000"/>
<path d="M366,237 L424,237 L428,255 L412,275 L408,299 L388,311 L360,311 L368,291 L374,265Z" fill="#ffffff"/>
<path d="M424,237 L470,237 L470,275 L440,271 L428,255Z" fill="#adadad"/>
<path d="M328,261 L346,261 L348,275 L332,275Z" fill="#e6e6e6"/>
<path d="M360,301 L388,301 L388,311 L360,311Z" fill="#cccccc"/>
<path d="M420,301 L472,299 L472,313 L420,315Z" fill="#d1d1d1"/>
<path d="M366,323 L440,319 L444,335 L424,359 L396,355 L368,339Z" fill="#b8b8b8"/>
<path d="M388,335 L374,365 L366,393" fill="none" stroke="#e6e6e6" stroke-width="8" stroke-linecap="round" stroke-linejoin="round"/>
<path d="M330,365 L350,365 L352,393 L324,393Z" fill="#c7c7c7"/>
<path d="M444,327 L474,335 L472,393 L448,393 L452,367 L440,355Z" fill="#e0e0e0"/>
<path d="M476,299 L526,299 L540,327 L560,359 L544,381 L500,381 L476,355Z" fill="#f7f7f7"/>
<path d="M474,237 L500,237 L512,275 L500,299 L476,299Z" fill="#9e9e9e"/>
<path d="M518,237 L558,237 L568,265 L570,289 L550,289 L536,265Z" fill="#f7f7f7"/>
<path d="M496,251 L518,237 L536,265 L520,275Z" fill="#a8a8a8"/>
<path d="M536,299 L584,299 L600,327 L612,339 L598,339 L596,351 L560,355 L540,327Z" fill="#e6e6e6"/>
<path d="M580,283 L624,283 L624,315 L580,315Z" fill="#b2b2b2"/>
<path d="M598,341 L640,341 L644,367 L630,393 L598,393Z" fill="#f7f7f7"/>
<path d="M320,393 L360,393 L360,417 L322,417Z" fill="#e0e0e0"/>
<path d="M360,393 L436,393 L436,419 L360,419Z" fill="#9e9e9e"/>
<path d="M436,393 L472,393 L472,419 L436,419Z" fill="#ffffff"/>
<path d="M474,393 L598,393 L598,419 L474,419Z" fill="#b2b2b2"/>
<path d="M322,421 L366,421 L384,443 L360,453 L332,459 L322,443Z" fill="#e6e6e6"/>
<path d="M366,421 L408,421 L408,453 L384,443Z" fill="#9e9e9e"/>
<path d="M320,459 L352,459 L360,489 L366,517 L350,521 L332,497Z" fill="#b2b2b2"/>
<path d="M376,453 L412,453 L412,497 L440,533 L424,537 L396,513 L384,497Z" fill="#adadad"/>
<path d="M360,489 L384,497 L396,513 L412,537 L396,553 L372,533Z" fill="#595959"/>
<path d="M368,517 L396,553 L404,571 L370,571 L366,553 L360,533Z" fill="#9e9e9e"/>
<path d="M412,537 L452,533 L488,571 L404,571Z" fill="#a1a1a1"/>
<path d="M368,571 L488,571 L520,549 L520,667 L470,667 L440,631 L396,617Z" fill="#a1a1a1"/>
<path d="M456,641 L500,641 L512,665 L470,667Z" fill="#737373"/>
<path d="M720,691 L760,691 L760,749 L720,749Z" fill="#d1d1d1"/>
<path d="M720,714 L772,714 L772,766 L720,766Z" fill="#e0e0e0"/>
<path d="M645,448 L720,448 L724,500 L716,552 L645,552Z" fill="#cccccc"/>
<path d="M563,420 L592,420 L596,470 L588,540 L566,540 L560,480Z" fill="#d1d1d1"/>
<path d="M540,596 L580,606 L640,640 L640,668 L590,650 L545,620Z" fill="#cccccc"/>
<path d="M688,552 L734,552 L736,612 L700,616 L686,590Z" fill="#cccccc"/>
<path d="M440,425 L500,425 L506,470 L470,480 L440,462Z" fill="#e6e6e6"/>
</g>
<path d="M463,552 L466,552.5 L478,574 L488,590 L493.5,603 L491,604 L484,591 L474,575Z" fill="#b3b3b3"/><path d="M493.7,612.8 L504,614 L511.9,618.8 L522,619 L530,621.9 L533,634 L527,646 L522,652 L518,643 L514,634 L508.8,628 L496.7,618.8Z" fill="#b3b3b3"/><path d="M522,665 L530,659 L540,655 L556,653 L558,665 L552,675 L536,673 L522,671Z" fill="#b3b3b3"/><path d="M558,645 L570,638 L584,645 L586,653 L576,661 L562,657Z" fill="#b3b3b3"/></g>
<path d="M1383,446 L1389,442 L1400,440 L1414,438 L1424,438 L1425,444 L1416,442 L1400,446 L1383,451Z" fill="#1b72cf"/><path d="M1401,441.5 L1414,440 L1414,443 L1402,445Z" fill="#e6ee1e"/><path d="M1394,443.5 L1401,441.5 L1402,445 L1395,447Z" fill="#7fae72"/><path d="M1058,265 L1066,260 L1075,257 L1076,260 L1068,265 L1060,268Z" fill="#7fae72"/><path d="M1058,266 L1061,264 L1062,266 L1059,268Z" fill="#e6ee1e"/><path d="M1072,257 L1076,256 L1076,258 L1073,259Z" fill="#e6ee1e"/><path d="M1190,877 L1194,877 L1194,880 L1190,880Z" fill="#1b72cf"/><path d="M1206,878 L1210,877 L1210,880 L1206,880Z" fill="#1b72cf"/><path d="M1214,877 L1222,873 L1228,873 L1228,877 L1220,880 L1214,880Z" fill="#1b72cf"/><path d="M1228,875 L1234,872 L1235,874 L1229,877Z" fill="#7fae72"/><path d="M1234,872 L1246,863 L1247,865 L1236,874Z" fill="#e6ee1e"/><path d="M400,628 L420,628 L420,632 L404,633Z" fill="#1b72cf"/><path d="M408,629 L418,629 L418,631 L408,631Z" fill="#e6ee1e"/><path d="M418,649 L423,649 L423,653 L418,653Z" fill="#4c90a0"/><path d="M439,644 L446,645 L446,650 L440,649Z" fill="#4c90a0"/><path d="M439,655 L441,655 L446,662 L445,664 L440,660Z" fill="#7fae72"/><path d="M1488,361 L1500,360 L1500,366 L1490,367Z" fill="#1b72cf"/><path d="M1466,372 L1476,370 L1476,374 L1468,376Z" fill="#1b72cf"/><path d="M1026,283 L1031,281 L1033,285 L1028,287Z" fill="#1b72cf"/><path d="M1133,320 L1139,320 L1139,325 L1133,325Z" fill="#1b72cf"/><path d="M1125,336 L1128,333 L1130,336 L1127,339Z" fill="#1b72cf"/><path d="M1158,299.5 L1167.7,299.5 L1167.7,308 L1158,308Z" fill="#1b72cf"/><path d="M1171.5,311 L1180,311 L1180,318.6 L1171.5,318.6Z" fill="#1b72cf"/><path d="M1449,440 L1453,440 L1453,443 L1449,443Z" fill="#1b72cf"/><path d="M1340,590 L1349,585 L1350,597 L1344,602Z" fill="#1b72cf"/><path d="M1240,768 L1243,768 L1243,778 L1240,778Z" fill="#1b72cf"/>
<path class="b" d="M328,308 L340,309 L348,313 L352,323 L360,326 L370,324 L384,324.6 L396,322 L408,319 L420,316.6 L430,315 L440,314.4 L460,313.8 L473.6,313.4 M473,235.6 L473,313.4 M473.6,313.4 L475,313.4 L480,319 L483,325 L481,333 L477,341 L474,347 L470,353 L469,359 L474,362 L474,367 L473.6,419.6 M493,235.6 L493,262 L498,270 L500,275 L508,281 L515,288 L520,294 L528,297 L529,301 L527,309 L526,319 L526,326 L530,329 L537,323 L540,327 L544,335 L548,343 L553,348 L558,355 L562,356 L570,353 L580,352.6 L589,352 L592,348 L598,354 M319,419.6 L599,419.6 M599,340.6 L746,340.6 M599,340.6 L599,446 M599,446 L789,446 M746,235.6 L746,446 M746,316 L905,316 M746,394.6 L862,394.6 L872,400 L886,398 L896,401 L903,405 M890,235.6 L891,245 L892,259 L897,273 L899,285 L901,299 L904,309 L905,316 L904,319 L898,324 L900,327 L907,333 L907,381 L904,388 L907,393 L904,397 L903,405 M907,380.6 L1016,380.6 M994,296 L993,311 L986,315 L981,321 L982,327 L986,331 L983,339 L984,347 L990,353 L1000,358 L1008,367 L1015,375 L1016,381 L1020,387 L1019,393 L1020,399 L1028,404 L1037,413 L1039,421 L1036,429 L1028,433 L1020,436 L1019,442 L1022,446 L1020,453 L1014,457 L1011,461 L1013,465 L1011,471 L1012,477 L1016,483 L1024,489 L1028,497 L1031,503 L1038,502 L1040,507 L1036,513 L1035,519 L1042,525 L1050,533 L1054,541 L1056,549 L1059,553 L1060,559 L1058,565 L1052,571 L1048,579 L1044,587 L1040,595 L1038,604 L1032,611 L1029,619 L1024,625 L1020,633 L1017,643 L1018,651 L1017,657 L1019,665 L1022,673 L1020,680 L1016,687 L1012,695 L1008,703 L1008,709 M1030,296 L1038,303 L1055,309 L1069,314 L1081,317 L1085,323 L1087,331 L1090.5,333 L1092,339 M1029,406 L1090,406 M1094,421 L1094,491 L1091,496 L1095,501 L1096,507 L1092,513 L1088,519 L1084,525 L1082,531 M1082,531 L1083,537 L1078,541 L1074,549 L1066,546 L1060,551 M1082,531 L1090,529 L1096,527 L1102,531 L1108,526 L1113,530 L1119,521 L1126,526 L1132,519 L1137,513 L1140,508 L1146,506 L1151,502 L1151,497 L1157,496 L1162,501 L1168,505 L1176,508 L1184,507 L1191,506 L1196,512 L1199,515 L1204,513 L1206,507 L1210,501 L1215,499 L1218,491 L1224,488 L1230,483 L1236,477 L1239,469 L1239,457 L1242,453 M1151,426 L1151,497 M1113,426 L1182,426 M1242,420 L1242,480 M1242,480 L1344,480 M1263,480 L1263,494 L1268,489 L1276,485 L1284,484 L1288,487 L1292,484 L1298,485 L1300,489 M1300,489 L1306,493 L1312,499 L1318,502 L1316,508 L1311,511 L1310,515 L1318,519 L1326,525 L1331,531 M1300,489 L1296,495 L1288,491 L1284,499 L1278,505 L1272,507 L1268,513 L1262,510 L1258,517 L1255,525 L1249,531 L1248,537 L1240,541 L1234,543 L1224,542 L1218,546 L1212,543 L1209,540 M1199,515 L1198,521 L1202,529 L1206,535 L1209,540 M1209,540 L1200,547 L1190,555 L1180,560 L1174,562 M1340,563 L1174,563 L1082,561 L1082,565 L1054,565 M1258,413 L1258,419.6 L1351,419.6 M1351,419.6 L1357,425 L1359,431 L1362,436 L1357,443 L1355,451 L1353,457 L1360,462 L1365,468 L1358,472 L1352,475 L1346,478 L1344,481 M1362,436 L1383,446 M1344,480 L1342,484 L1342,513 L1357,513 M1338,526 L1352,527 M1392.4,340.6 L1392.4,359 L1391,367 L1393,375 L1394.4,393 L1393,401 M1393,401 L1390,419 L1389,437 L1389,442 M1432,340.6 L1430,351 L1426,356 L1420,360 L1417,369 L1413,381 L1412,393 L1413,401 M1393,401 L1438,401 L1446,397 M1390,419 L1436,419 M1428,419 L1428,436 M1436,419 L1437,431 M1441,333 L1445,389 L1449,392 M410,419.6 L410,498 L522,602 M522,602 L521,591 L520,577 L530,577 L536,573 L535.6,551 M522,602 L525,611 L530,619 L534,623 L528,629 L525,637 L523,645 L521,651 L524,657 L526,662 L522,664 M535.6,419.6 L535.6,551 M535.6,551 L945,552 M641,446 L641,701 M789,446 L789,552 M789,473 L931,473 M768,552 L768,684 M768,565 L831.6,565 M831.6,565 L831.6,616 L838,620 L845,619 L850,624 L858,627 L867,627 L873,632 L876,635 L882,632 L890,637 L896,633 L902,634 L908,638 L915,635 L922,633 L932,632 L938,636 L946,640 L949,642 L957,642 M768,684 L692,684 M903,405 L908,415 L912,427 L917,437 L919,447 L919,455 L922,457 L922,461 L926,468 L931,473 L939,475 L940,479 L935,484 L939,491 L945,495 L945,565 M922,456.6 L1008,456.6 L1011,461 M945,565 L1040,565 L1037,572 L1033,579 L1048,579 M945,565 L945,571 L948,591 L948,640 L949,642 M957,642 L957,685 L962,693 L966,703 L967,711 L964,721 L963,731 L960,739 L960,742 M957,657 L1017,657 M1008,709 L1048,709 L1048,719 L1052,729 L1050,735 M1038,604 L1186,605 M1081,604 L1074,691 L1076,727 M1136,604 L1140,623 L1143,641 L1146,661 L1149,677 L1145,687 L1145,701 L1147,715 L1148,718 M1100,725 L1095,719 L1092,709 L1145,709 M1148,718 L1208,721 L1209,727 L1211,715 L1221,718 M1162,605 L1164,598 L1172,592 L1182,588 L1192,581 L1200,577 L1210,573 L1216,571 L1216,563 M1186,605 L1192,602 L1202,600 L1220,600 L1231,601 L1236,608 L1260,609 L1283,633 M1186,605 L1182,612 L1190,618 L1194,625 L1200,633 L1208,641 L1214,649 L1220,657 L1224,665 L1228,673 L1230,681 L1233,684"/>
<path class="b" d="M351.6,235.6 L932.4,235.6 L932.4,226 L942,226 L944,241 L952,244 L963,248 L972,245 L982,245 L988,249 L993,255 L1000,252 L1008,258 L1016,259 L1024,255 L1032,258 L1042,259 L1053,262 L1040,267 L1026,274 L1016,280 L1004,288 L994,296 L1004,294 L1016,292 L1024,290 L1027,291 L1023,298 L1029,295 L1040,294.8 L1047.6,292.9 L1059,289 L1068.6,283.3 L1078,277.6 L1085.7,275.7 L1090.5,276.7 L1089.6,278.6 L1082,283.3 L1076.2,289 L1075.3,293.8 L1081,292 L1087.7,291 L1093.4,294.8 L1097.2,299.5 L1104.8,301.5 L1112.4,302.4 L1122,297.6 L1131.5,295.7 L1141,294.8 L1148.7,293.8 L1149.6,300.5 L1156.3,302.4 L1163.9,303.4 L1165.8,308.1 L1170.6,313.8 L1162,314.8 L1154.4,314.8 L1150,317.6 L1144.8,314.8 L1137.2,312.9 L1129.6,314.8 L1122,316.7 L1116.2,320.5 L1110.5,317.7 L1105.8,317.7 L1102.9,323.4 L1097.2,332.9 L1092.4,338.6 L1088,346 L1083,353 L1090,347 L1098,339 L1106.7,333.9 L1099,344.3 L1095.3,352 L1092.4,361.5 L1090.5,371 L1088.6,380.6 L1086.7,388.2 L1087.7,399.6 L1088.6,407.2 L1090.5,416.8 L1094.3,424.4 L1099,428.2 L1106.7,426.3 L1113.4,422.5 L1118.2,414.9 L1121,407.2 L1122,399.6 L1121,390.1 L1118.2,382.5 L1116.2,374.8 L1116.2,365.3 L1119.1,357.7 L1121,348.2 L1125.8,342.4 L1131.5,336.7 L1137.2,332.9 L1142.9,327.2 L1146.7,320.5 L1151,319.6 L1158.2,321.5 L1165.8,325.3 L1173.4,328.1 L1181,332 L1184.9,338.6 L1182,342.4 L1183.9,350 L1182,357.7 L1177.2,363.4 L1171.5,369.1 L1169.6,373.9 L1173.4,378.7 L1179.2,373.9 L1184.9,367.2 L1192.5,365.3 L1197.2,369.1 L1199.2,378.7 L1200.1,388.2 L1201.1,393.9 L1199.2,399.6 L1198.2,405.3 L1192.5,407.2 L1190.6,413 L1186.8,418.7 L1182,424.4 L1186.8,428.2 L1191.5,432 L1198.2,434.9 L1207.7,433 L1217.3,430.1 L1223,426.3 L1230.6,422.5 L1242,420.6 L1249.7,416.8 L1259.2,412 L1268.7,406.3 L1275.4,400.6 L1273.5,393.9 L1272.6,387.2 L1278.3,384.4 L1287.8,384 L1297.3,384.4 L1306.9,385.3 L1316,386 L1324,381 L1331,379 L1333,373 L1330,369 L1329,364 L1338,358 L1342,352 L1350,345 L1360,340.6 L1432,340.6 L1434,334 L1441,333 L1448,329 L1452,323 L1457,317 L1458,309 L1462,301 L1464,295 L1470,287 L1480,275 L1483,276 L1485,282 L1492,280 L1500,278 L1506,281 L1511,287 L1511.6,319 L1514,324 L1518,326 L1517,333 L1522,336 L1526,340 L1527,347 L1520,351 L1512,353 L1504,356 L1498,358 L1492,359 L1488,354 L1484,361 L1480,368 L1472,371 L1464,374 L1458,377 L1452,385 L1449,392 L1447,397 L1449,403 L1444,408 L1441,411 L1446,414 L1450,419 L1452.8,425.5 L1458.9,427.5 L1464.5,427 L1465.5,422.4 L1463,418.8 L1459,417.6 L1463.5,417.2 L1467.5,421.5 L1467.5,428 L1465,430 L1458.9,431.5 L1452.8,430.5 L1446.8,432.5 L1440.7,431 L1437,431.5 L1437,434 L1432,437 L1428,436 L1414,438 L1400,440 L1389,442 L1383,446 L1381,451 L1378,457 L1380,459 L1381,467 L1379,477 L1372,487 L1366,495 L1362,501 L1358,499 L1352,491 L1348,485 L1344,481 L1346,489 L1350,497 L1356,505 L1357,513 L1355,521 L1350,531 L1344,541 L1338,549 L1336,541 L1338,533 L1337,525 L1334,517 L1331,509 L1333,501 L1337,493 L1338,485 L1334,485 L1332,489 L1328,497 L1326,507 L1328,517 L1331,529 L1330,539 L1332,549 L1336,553 L1340,563 L1342,571 L1346,577 L1348,583 L1349,597 L1340,603 L1332,609 L1326,614 L1318,611 L1310,615 L1304,621 L1299,627 L1296,633 L1283,634 L1278,639 L1272,647 L1268,653 L1260,661 L1252,667 L1244,671 L1238,677 L1233,684 L1230,691 L1226,699 L1222,707 L1221,715 L1222,719 L1223,727 L1226,734 L1229,746 L1233,758 L1236,768 L1238,778 L1242,790 L1246,800 L1250,810 L1252,820 L1252,830 L1251,840 L1250,848 L1247,854 L1244,862 L1238,864 L1230,864 L1228,861 L1226,854 L1222,847 L1217,844 L1214,838 L1213,831 L1209,825 L1208,818 L1202,814 L1199,806 L1197,800 L1196,794 L1194,786 L1196,778 L1197,770 L1194,762 L1188,757 L1182,750 L1177,743 L1172,737 L1167,734 L1162,735 L1160,739 L1152,741 L1146,743 L1140,742 L1136,732 L1128,726 L1120,724 L1112,725 L1100,727 L1090,727 L1086,726 L1085,716 L1082,714 L1080,722 L1079,728 L1070,726 L1064,728 L1058,734 L1060,740 L1058,746 L1052,750 L1056,756 L1063,759 L1060,763 L1054,762 L1048,754 L1040,759 L1032,756 L1024,761 L1020,758 L1014,752 L1008,744 L1000,741 L996,746 L988,747 L980,744 L972,741 L960,742 L950,746 L940,748 L937,753 L932,760 L926,764 L918,768 L908,772 L900,776 L890,786 L882,794 L880,806 L884,810 L885,818 L888,830 L891.6,840 L891,843 L884,844 L876,841 L868,839 L860,834 L851,830 L847,820 L843,814 L842,806 L838,800 L832,792 L825,782 L820,770 L815,758 L808,751 L802,744 L792,742 L782,741 L774,746 L771,756 L765,763 L758,761 L750,756 L740,750 L735,742 L732,732 L726,722 L720,714 L708,703 L700,695 L692,685 L692,689 L659,689 L659,701 L641,701 L598,701 L520,670 L522,664 L470,669 L468,659 L464,651 L458,645 L452,639 L446,637 L444,633 L438,630 L428,627 L422,621 L412,619 L402,619 L398,615 L398,605 L394,599 L390,591 L382,585 L376,577 L370,571 L371,559 L368,553 L362,551 L360,541 L360,529 L358,523 L350,525 L348,521 L344,515 L337,507 L332,499 L331,489 L328,479 L322,471 L317,463 L318,457 L322,447 L325,439 L324,429 L319,419.6 L317,403 L315.5,393 L321,375 L324,355 L326,335 L327,315 L328,308 L327,305 L326,295 L328,289 L324,285 L320,277 L316,267 L311,261 L311,251.4 L322,255 L334,256.4 L348,257 L355,250 L352,243Z"/>
<path class="b" style="stroke-width:5" d="M1383,451 L1400,446 L1416,442 L1425,444 L1420,448 L1406,453 L1394,457 L1380,458Z"/>
<path class="b" style="stroke-width:8" d="M347.5,245 L351,248"/><path class="b" style="stroke-width:6.5" d="M355,253 L359,258 L359,265 L356,268"/><path class="b" style="stroke-width:8" d="M349,273 L356,274 L355,282 L350,282"/><path class="b" style="stroke-width:5" d="M351,262 L352,268"/><path class="b" style="stroke-width:4.5" d="M348,246 L355,253 L353,272"/><path class="b" style="stroke-width:4" d="M352,237 L350,243"/><path class="b" style="stroke-width:6" d="M359,523 L361,530 L363,537"/><path class="b" style="stroke-width:4" d="M362,536 L367,540"/><path class="b" style="stroke-width:5" d="M1335,485 L1331,493 L1329,503 L1329,513 L1331,523 L1332,533 L1332,543 L1334,551"/><path class="b" style="stroke-width:5" d="M1322,519 L1330,529"/><path class="b" style="stroke-width:4" d="M1318,527 L1330,538"/><path class="b" style="stroke-width:4" d="M1320,537 L1329,547"/><path class="b" style="stroke-width:4" d="M1316,545 L1329,553"/><path class="b" style="stroke-width:3.5" d="M1337,495 L1336,510 L1338,525"/><path class="b" style="stroke-width:5" d="M1325,489 L1330,493"/><path class="b" style="stroke-width:5" d="M1324,497 L1327,507"/><path class="b" style="stroke-width:4" d="M1333,497 L1334,507"/><path class="b" style="stroke-width:4" d="M1312,513 L1320,521"/><path class="b" style="stroke-width:3.5" d="M1336,531 L1340,541"/><path class="b" style="stroke-width:3.5" d="M1341,539 L1337,549"/><path class="b" style="stroke-width:5" d="M1360,500 L1362,502"/><path class="b" style="stroke-width:4" d="M1322,573 L1332,575 L1341,573"/><path class="b" style="stroke-width:4" d="M1336,579 L1341,585 L1337,591"/><path class="b" style="stroke-width:4" d="M1316,593 L1326,595 L1334,601"/><path class="b" style="stroke-width:4" d="M1314,603 L1326,607"/><path class="b" style="stroke-width:3" d="M1322,583 L1330,587"/><path class="b" style="stroke-width:8" d="M1194,790 L1199,794"/><path class="b" style="stroke-width:6" d="M1205,817 L1209,821"/><path class="b" style="stroke-width:6" d="M1229,860 L1233,862"/><path class="b" style="stroke-width:5" d="M1136,339 L1137,346"/><path class="b" style="stroke-width:3" d="M1036,731 L1040,727 L1047,728 L1049,733 L1044,736 L1038,735 L1036,731"/><path class="b" style="stroke-width:4" d="M935,752 L938,746"/><path class="b" style="stroke-width:4.5" d="M1446.5,437 L1454,437.5"/><path class="b" style="stroke-width:4" d="M1459.5,439.5 L1464.5,438.5 L1464,436"/><path class="b" style="stroke-width:4.5" d="M1432.5,427 L1434.5,434.5"/><path class="b" style="stroke-width:4" d="M1438.5,425 L1440,431"/><path class="b" style="stroke-width:3.5" d="M1442,429 L1444,431"/><path class="b" style="stroke-width:5" d="M880,806 L878,803"/><path class="b" style="stroke-width:4.5" d="M884,795 L881,792"/><path class="b" style="stroke-width:4.5" d="M890,786 L887,783"/><path class="b" style="stroke-width:4.5" d="M899,777 L897,773"/><path class="b" style="stroke-width:4" d="M906,772 L904,768"/><path class="b" style="stroke-width:3.5" d="M913,769 L911,766"/><path class="b" style="stroke-width:4.2" d="M1455,427.5 L1464.5,427.5 L1466,423 L1463,418.5 L1459.5,418"/>
</svg></body></html>
